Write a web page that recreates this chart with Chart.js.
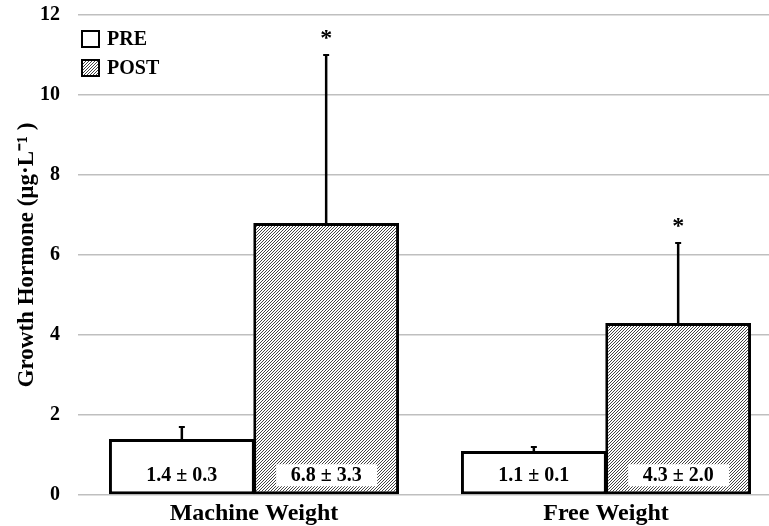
<!DOCTYPE html>
<html><head><meta charset="utf-8">
<script src="https://cdn.jsdelivr.net/npm/chart.js@4.4.1/dist/chart.umd.min.js"></script>
<style>html,body{margin:0;padding:0;background:#fff;overflow:hidden;width:769px;height:526px}canvas{display:block}</style>
</head><body>
<canvas id="c" width="782" height="526"></canvas>
<script>
const categories = ['Machine Weight', 'Free Weight'];
const seriesNames = ['PRE', 'POST'];
const preValues = [1.4, 1.1];
const postValues = [6.8, 4.3];
const preErrors = [0.3, 0.1];
const postErrors = [4.2, 2.0];
const preLabels = ['1.4 ± 0.3', '1.1 ± 0.1'];
const postLabels = ['6.8 ± 3.3', '4.3 ± 2.0'];
const postSignificant = [true, true];
const yTickValues = [0, 2, 4, 6, 8, 10, 12];

const SERIF = '"Liberation Serif", "Times New Roman", serif';

function makeHatch() {
  const t = document.createElement('canvas');
  t.width = 3; t.height = 3;
  const g = t.getContext('2d');
  g.fillStyle = '#fff'; g.fillRect(0, 0, 3, 3);
  g.strokeStyle = '#444'; g.lineWidth = 1;
  g.beginPath();
  g.moveTo(-1, 4); g.lineTo(4, -1);
  g.moveTo(-1, 1); g.lineTo(1, -1);
  g.moveTo(2, 4); g.lineTo(4, 2);
  g.stroke();
  return document.getElementById('c').getContext('2d').createPattern(t, 'repeat');
}
const hatch = makeHatch();

const errorsBySeries = [preErrors, postErrors];
const labelsBySeries = [preLabels, postLabels];

const extrasPlugin = {
  id: 'extras',
  afterDatasetsDraw(chart) {
    const ctx = chart.ctx;
    const y = chart.scales.y;
    chart.data.datasets.forEach((ds, di) => {
      const meta = chart.getDatasetMeta(di);
      meta.data.forEach((el, i) => {
        const v = ds.data[i];
        const top = y.getPixelForValue(v + errorsBySeries[di][i]);
        const base = el.y;
        ctx.save();
        ctx.strokeStyle = '#000';
        ctx.lineWidth = 2.5;
        ctx.beginPath();
        ctx.moveTo(el.x, base); ctx.lineTo(el.x, top);
        ctx.stroke();
        ctx.lineWidth = 2;
        ctx.beginPath();
        ctx.moveTo(el.x - 3, top); ctx.lineTo(el.x + 3, top);
        ctx.stroke();
        const bottom = el.base;
        const cy = bottom - 19;
        ctx.fillStyle = '#fff';
        ctx.fillRect(el.x - 50, cy - 11, 101, 22);
        ctx.fillStyle = '#000';
        ctx.font = 'bold 20px ' + SERIF;
        ctx.textAlign = 'center';
        ctx.textBaseline = 'middle';
        ctx.fillText(labelsBySeries[di][i], el.x, cy + 1);
        if (di === 1 && postSignificant[i]) {
          ctx.font = 'bold 24px ' + SERIF;
          ctx.textBaseline = 'alphabetic';
          ctx.fillText('*', el.x, top - 10);
        }
        ctx.restore();
      });
    });
    const L = chart.chartArea.left;
    const T = chart.chartArea.top;
    ctx.save();
    chart.data.datasets.forEach((ds, di) => {
      const bx = L + 4, by = T + 16 + di * 29;
      ctx.fillStyle = ds.backgroundColor;
      ctx.fillRect(bx, by, 17, 16);
      ctx.strokeStyle = '#000'; ctx.lineWidth = 2;
      ctx.strokeRect(bx, by, 17, 16);
      ctx.fillStyle = '#000';
      ctx.font = 'bold 20px ' + SERIF;
      ctx.textAlign = 'left'; ctx.textBaseline = 'middle';
      ctx.fillText(ds.label, bx + 25, by + 9);
    });
    ctx.restore();
  }
};

new Chart(document.getElementById('c'), {
  type: 'bar',
  data: {
    labels: categories,
    datasets: [
      { label: seriesNames[0], data: preValues, backgroundColor: '#ffffff', borderColor: '#000', borderWidth: 3, borderSkipped: false },
      { label: seriesNames[1], data: postValues, backgroundColor: hatch, borderColor: '#000', borderWidth: 3, borderSkipped: false }
    ]
  },
  options: {
    responsive: false,
    animation: false,
    devicePixelRatio: 1,
    categoryPercentage: 0.82,
    barPercentage: 1.01,
    layout: { padding: { top: 15, right: 0, left: 0, bottom: 0 } },
    plugins: { legend: { display: false }, tooltip: { enabled: false } },
    scales: {
      x: {
        grid: { display: false },
        border: { display: false },
        ticks: { color: '#000', font: { family: SERIF, size: 24, weight: 'bold' }, padding: -4 },
        afterFit(s) { s.height = 31; s.paddingLeft = 0; s.paddingRight = 0; }
      },
      y: {
        min: 0, max: 12,
        afterBuildTicks(s) { s.ticks = yTickValues.map(v => ({ value: v })); },
        grid: { color: '#bfbfbf', lineWidth: 1.5, drawTicks: false },
        border: { display: false },
        ticks: { color: '#000', font: { family: SERIF, size: 20, weight: 'bold' }, padding: 18 },
        title: { display: true, text: 'Growth Hormone (µg·L⁻¹ )', color: '#000', font: { family: SERIF, size: 23, weight: 'bold' }, padding: { top: 13, bottom: 0 } },
        afterFit(s) { s.width = 78; s.paddingTop = 0; s.paddingBottom = 0; }
      }
    }
  },
  plugins: [extrasPlugin]
});
</script>
</body></html>
